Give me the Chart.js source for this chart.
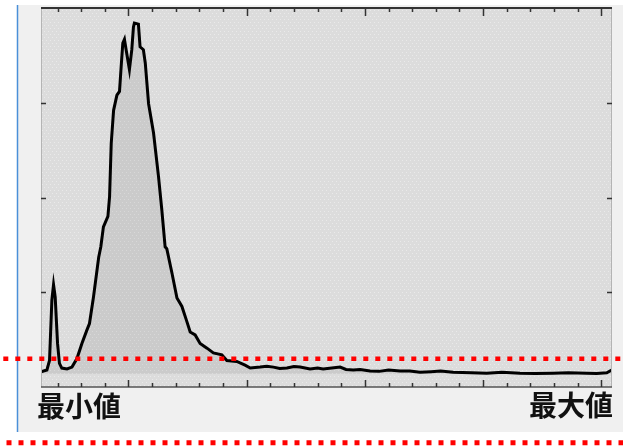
<!DOCTYPE html>
<html>
<head>
<meta charset="utf-8">
<script src="https://cdn.jsdelivr.net/npm/chart.js"></script>
<style>
  html, body { margin: 0; padding: 0; background: #fff; overflow: hidden; }
  canvas { display: block; }
</style>
</head>
<body>
<canvas id="histChart" width="623" height="447"></canvas>
<script>
// histogram samples (x in axis units, y in counts)
const binX = [-37, -34.5, -33.4, -32.4, -31.7, -31.0, -30.0, -29.2, -28.2, -26.0, -23.9, -21.8, -19.7, -17.6, -16.5,
  -14.8, -12.6, -11.7, -10.6, -8.7, -8.0, -7.3, -6.3, -4.9, -3.8, -3.1, -2.4, -1.7, -1.0, 0.4, 1.4, 2.1, 2.5, 4.2,
  4.9, 6.3, 7.1, 8.5, 10.6, 12.7, 14.1, 15.5, 16.2, 18.4, 20.5, 22.6, 24.7, 26.1, 28.2, 30.3, 33.2, 35.9, 39.5,
  41.6, 45.8, 49.3, 51.5, 55.7, 58.5, 61.3, 64, 67, 70, 72.6, 76.8, 80, 82.3, 86, 89.5, 92, 95.1, 98, 102.2, 106,
  110, 114.9, 119, 123.3, 128, 132, 137.3, 145, 151.5, 158, 165.6, 172, 179.6, 186, 193.8, 198, 202.3, 204.4];
const binCounts = [16, 18, 28, 92, 108, 95, 46, 25, 20, 19, 21, 30, 46, 60, 67,
  95, 137, 148, 169, 180, 201, 257, 292, 308, 312, 338, 363, 367, 356, 335, 356, 380, 384, 383,
  359, 356, 342, 299, 268, 222, 187, 148, 146, 120, 94, 85, 69, 58, 55, 46, 41, 36, 34,
  28, 27, 23, 20, 21, 22, 21, 19.5, 20, 21.5, 21, 19, 20, 19, 20, 21, 18.5, 18, 18.5, 17, 16.5,
  18, 17, 16.8, 15.5, 16.2, 17, 15.5, 15, 14.5, 15.5, 14.5, 14.2, 14.5, 15, 14.5, 14.3, 15, 18];

const xTicks = [-30, -20, -10, 0, 10, 20, 30, 40, 50, 60, 70, 80, 90, 100, 110, 120, 130, 140, 150, 160, 170, 180, 190, 200];
const yTicks = [100, 200, 300];
const axisLabels = ["最小値", "最大値"];

const labelFont = 'bold 28px "Noto Sans CJK JP", "Noto Sans CJK SC", sans-serif';

const histFrame = {
  id: "histFrame",
  beforeDraw(chart) {
    const { ctx, chartArea: a } = chart;
    ctx.save();
    ctx.fillStyle = "#ffffff";
    ctx.fillRect(0, 0, chart.width, chart.height);
    ctx.fillStyle = "#f0f0f0";
    ctx.fillRect(18, 5, chart.width - 18, 427);
    ctx.fillStyle = "#dcdcdc";
    ctx.fillRect(a.left, a.top, a.right - a.left, a.bottom - a.top);
    // faint dotted texture
    ctx.fillStyle = "rgba(255,255,255,0.4)";
    for (let y = a.top + 2, r = 0; y < a.bottom; y += 3, r++) {
      for (let x = a.left + 1 + (r % 2) * 2; x < a.right; x += 4) ctx.fillRect(x, y, 1, 1);
    }
    ctx.restore();
  },
  afterDatasetsDraw(chart) {
    const { ctx, chartArea: a, scales } = chart;
    ctx.save();
    // frame
    ctx.strokeStyle = "#b4b4b4";
    ctx.lineWidth = 1;
    ctx.beginPath();
    ctx.moveTo(a.left + 0.5, a.top); ctx.lineTo(a.left + 0.5, a.bottom);
    ctx.moveTo(a.right - 0.5, a.top); ctx.lineTo(a.right - 0.5, a.bottom);
    ctx.stroke();
    ctx.strokeStyle = "#333";
    ctx.lineWidth = 2;
    ctx.beginPath();
    ctx.moveTo(a.left, a.top); ctx.lineTo(a.right, a.top);
    ctx.stroke();
    ctx.strokeStyle = "#555";
    ctx.lineWidth = 1.5;
    ctx.beginPath();
    ctx.moveTo(a.left, a.bottom); ctx.lineTo(a.right, a.bottom);
    ctx.stroke();

    // inward tick marks
    ctx.strokeStyle = "#333";
    ctx.lineWidth = 1.5;
    ctx.beginPath();
    xTicks.forEach(v => {
      const px = Math.round(scales.x.getPixelForValue(v)) + 0.5;
      const major = v % 50 === 0;
      ctx.moveTo(px, a.top); ctx.lineTo(px, a.top + (major ? 8 : 4));
      ctx.moveTo(px, a.bottom); ctx.lineTo(px, a.bottom - (major ? 7 : 4));
    });
    yTicks.forEach(v => {
      const py = Math.round(scales.y.getPixelForValue(v)) + 0.5;
      ctx.moveTo(a.left, py); ctx.lineTo(a.left + 5, py);
      ctx.moveTo(a.right, py); ctx.lineTo(a.right - 5, py);
    });
    ctx.stroke();

    // min / max labels
    ctx.fillStyle = "#111";
    ctx.font = labelFont;
    ctx.textBaseline = "alphabetic";
    ctx.textAlign = "left";
    ctx.fillText(axisLabels[0], a.left - 4, 417);
    ctx.textAlign = "right";
    ctx.fillText(axisLabels[1], a.right + 1, 416);
    ctx.restore();
  },
  afterDraw(chart) {
    const { ctx } = chart;
    ctx.save();
    // blue edge line
    ctx.strokeStyle = "#4a8fd8";
    ctx.lineWidth = 1.5;
    ctx.beginPath();
    ctx.moveTo(17.5, 5); ctx.lineTo(17.5, 432);
    ctx.stroke();
    // red dotted guide lines
    ctx.strokeStyle = "#ff0000";
    ctx.setLineDash([5, 7]);
    ctx.lineWidth = 4.5;
    ctx.lineDashOffset = 8.7;
    ctx.beginPath();
    ctx.moveTo(0, 358.8); ctx.lineTo(chart.width, 358.8);
    ctx.stroke();
    ctx.lineWidth = 5;
    ctx.lineDashOffset = 5.5;
    ctx.beginPath();
    ctx.moveTo(0, 442.8); ctx.lineTo(chart.width, 442.8);
    ctx.stroke();
    ctx.restore();
  }
};

const histCtx = document.getElementById("histChart").getContext("2d");

new Chart(histCtx, {
  type: "line",
  data: {
    datasets: [{
      data: binX.map((x, i) => ({ x: x, y: binCounts[i] })),
      borderColor: "#000",
      borderWidth: 3,
      backgroundColor: "rgba(0,0,0,0.075)",
      fill: { value: 14 },
      tension: 0,
      pointRadius: 0,
    }],
  },
  options: {
    responsive: false,
    animation: false,
    devicePixelRatio: 1,
    layout: { padding: { left: 41, right: 11, top: 8, bottom: 60 } },
    plugins: {
      legend: { display: false },
      tooltip: { enabled: false },
    },
    scales: {
      x: { type: "linear", display: false, min: -37, max: 204.5 },
      y: { display: false, min: 0, max: 400 },
    },
  },
  plugins: [histFrame],
});
</script>
</body>
</html>
